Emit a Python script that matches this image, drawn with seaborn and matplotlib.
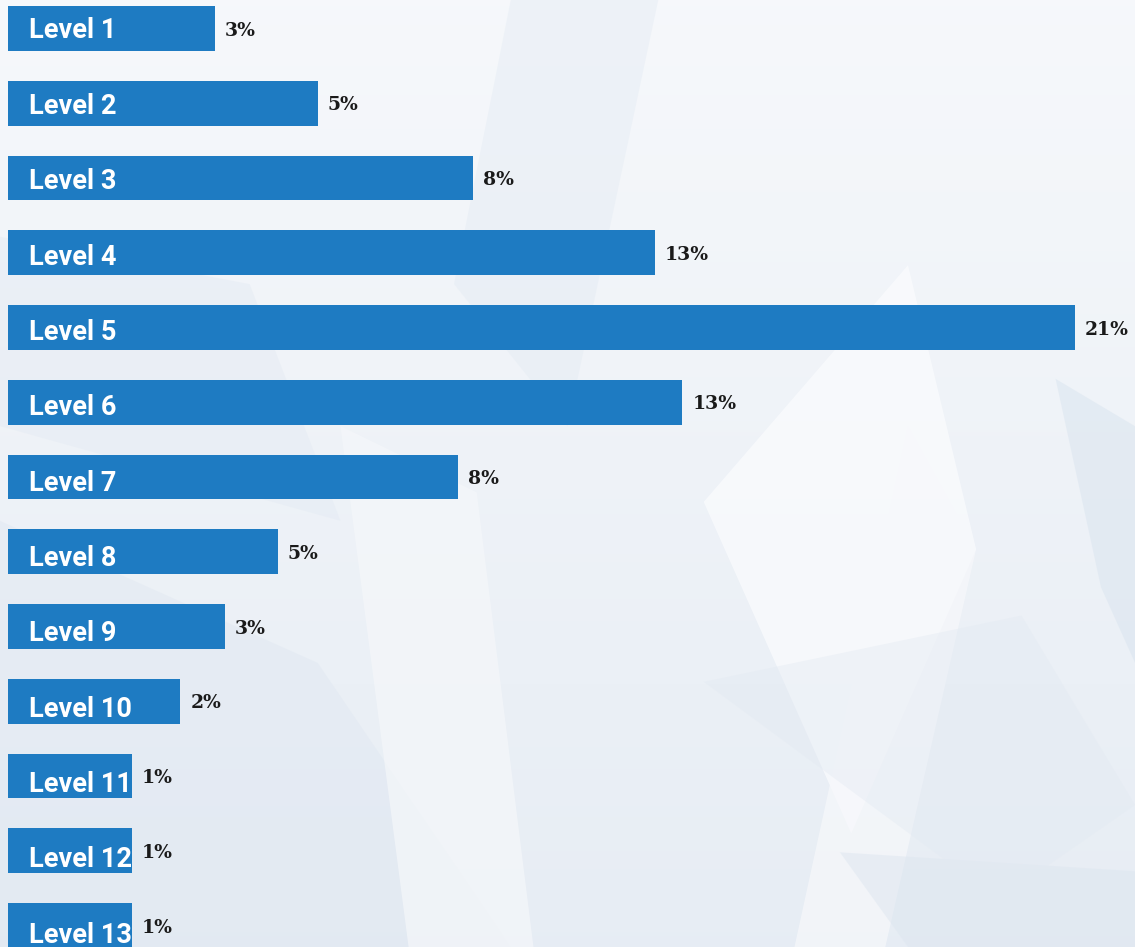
import numpy as np
import pandas as pd
import matplotlib
matplotlib.use("Agg")
import matplotlib.pyplot as plt
from matplotlib.patches import Polygon
import seaborn as sns

# niveles y porcentajes (etiquetas tal como aparecen)
levels = ["Level 1", "Level 2", "Level 3", "Level 4", "Level 5", "Level 6", "Level 7",
          "Level 8", "Level 9", "Level 10", "Level 11", "Level 12", "Level 13"]
pct_labels = ["3%", "5%", "8%", "13%", "21%", "13%", "8%", "5%", "3%", "2%", "1%", "1%", "1%"]
# longitud de barra estimada del grafico (en %)
bar_share = [4.07, 6.10, 9.15, 12.73, 21.0, 13.27, 8.86, 5.31, 4.27, 3.39, 2.44, 2.44, 2.44]

data = pd.DataFrame({"level": levels, "share": bar_share, "label": pct_labels})

sns.set_style("white")
plt.rcParams["font.family"] = ["Roboto", "DejaVu Sans"]

W, H = 1135, 947
fig = plt.figure(figsize=(W / 100, H / 100), dpi=100)
fig.patch.set_facecolor("#eef2f7")

# fondo: degradado suave + facetas claras (decorativo)
bg = fig.add_axes([0, 0, 1, 1], zorder=-20)
grad = np.linspace(0, 1, 256).reshape(-1, 1)
top = np.array([0.965, 0.973, 0.985])
bot = np.array([0.905, 0.929, 0.957])
img = top + (bot - top) * grad[..., None]
bg.imshow(img, aspect="auto", extent=[0, 1, 0, 1], origin="upper")
bg.set_axis_off()

facets = [
    ([(0.0, 0.45), (0.28, 0.30), (0.45, 0.0), (0.0, 0.0)], "#dfe7f1", 0.45),
    ([(0.62, 0.47), (0.80, 0.72), (0.86, 0.42), (0.75, 0.12)], "#fbfcfe", 0.7),
    ([(0.45, 1.0), (0.58, 1.0), (0.50, 0.55), (0.40, 0.70)], "#dfe8f2", 0.35),
    ([(0.70, 0.0), (0.78, 0.0), (0.86, 0.42), (0.80, 0.55)], "#f7f8fb", 0.7),
    ([(0.93, 0.60), (1.0, 0.55), (1.0, 0.30), (0.97, 0.38)], "#d9e4ef", 0.5),
    ([(0.0, 0.75), (0.22, 0.70), (0.30, 0.45), (0.0, 0.55)], "#e3eaf3", 0.45),
    ([(0.30, 0.55), (0.42, 0.48), (0.47, 0.0), (0.36, 0.0)], "#f5f7fa", 0.7),
    ([(0.74, 0.10), (1.0, 0.08), (1.0, 0.0), (0.80, 0.0)], "#dde6f0", 0.5),
    ([(0.62, 0.28), (0.90, 0.35), (1.0, 0.15), (0.88, 0.05)], "#e2e9f2", 0.4),
]
for pts, col, a in facets:
    bg.add_patch(Polygon(pts, closed=True, transform=bg.transAxes,
                         facecolor=col, edgecolor="none", alpha=a))

ax = fig.add_axes([0, 0, 1, 1])
ax.set_facecolor("none")

px = 21.0 / 1067  # unidades por pixel
sns.barplot(data=data, x="share", y="level", orient="h", color="#1e7bc2",
            saturation=1, width=0.602, linewidth=0, ax=ax)

ax.set_xlim(-8 * px, (W - 8) * px)
pitch = 74.75
ax.set_ylim((H - 28.5) / pitch, -28.5 / pitch)

for i, row in data.iterrows():
    ax.text(21 * px, i + (10 + 0.6 * i) / pitch, row["level"], color="white",
            fontsize=19.5, fontweight="bold", va="baseline", ha="left",
            family=["Roboto", "DejaVu Sans"])
    ax.text(row["share"] + 10 * px, i + 2 / pitch, row["label"], color="#1a1a1a",
            fontsize=13.5, fontweight="bold", va="center", ha="left",
            family=["DejaVu Serif"])

ax.set_axis_off()
fig.savefig("out.png", dpi=100, facecolor=fig.get_facecolor())
